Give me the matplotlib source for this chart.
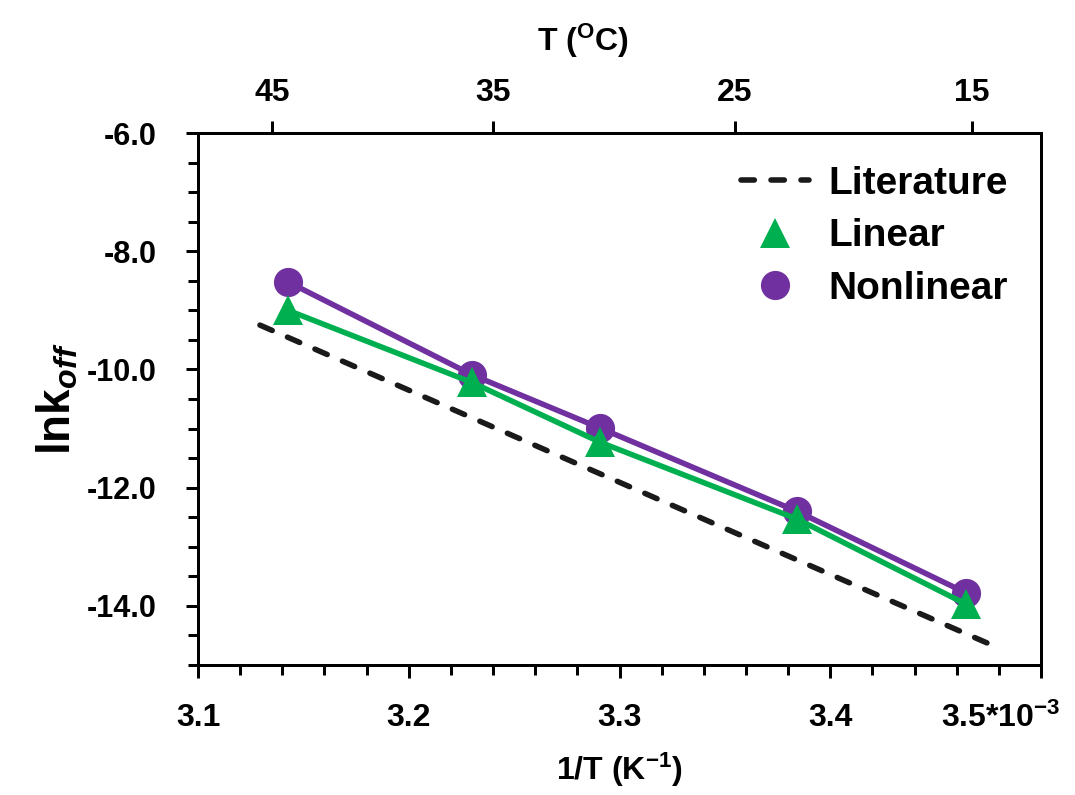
import matplotlib
matplotlib.use('Agg')
import matplotlib.pyplot as plt
from matplotlib import font_manager
from matplotlib.lines import Line2D
from matplotlib.ticker import MultipleLocator
from matplotlib.transforms import ScaledTranslation

# values (1/T in 10^-3 K^-1)
inv_t = [3.1427, 3.2300, 3.2907, 3.3842, 3.4644]
lnk_nonlinear = [-8.52, -10.09, -10.99, -12.40, -13.78]
lnk_linear = [-9.00, -10.22, -11.23, -12.53, -13.97]
lit_inv_t = [3.1294, 3.4791]
lit_lnk = [-9.25, -14.70]

x_ticks = [3.1, 3.2, 3.3, 3.4, 3.5]
x_labels = ['3.1', '3.2', '3.3', '3.4', '3.5*10$^{\\mathrm{-3}}$']
top_ticks = [3.1351, 3.2398, 3.3548, 3.4673]
top_labels = ['45', '35', '25', '15']
legend_labels = ['Literature', 'Linear', 'Nonlinear']

PURPLE = '#7030a0'
GREEN = '#00b050'
BLACK = '#1a1a1a'

names = {f.name for f in font_manager.fontManager.ttflist}
narrow = 'Liberation Sans Narrow' if 'Liberation Sans Narrow' in names else 'Liberation Sans'

plt.rcParams['font.family'] = ['Liberation Sans', 'DejaVu Sans']
plt.rcParams['font.weight'] = 'bold'
plt.rcParams['axes.labelweight'] = 'bold'
plt.rcParams['axes.unicode_minus'] = False
plt.rcParams['mathtext.fontset'] = 'custom'
plt.rcParams['mathtext.rm'] = 'Liberation Sans:bold'
plt.rcParams['mathtext.it'] = 'Liberation Sans:bold:italic'
plt.rcParams['mathtext.bf'] = 'Liberation Sans:bold'

fig = plt.figure(figsize=(10.75, 7.95), dpi=100)
ax = fig.add_axes([0.1842, 0.1635, 0.7842, 0.6692])

LW = 4.0
MS = 21
ax.plot(lit_inv_t, lit_lnk, color=BLACK, lw=LW, dashes=(2.4, 3.0),
        dash_capstyle='round', zorder=2)
ax.plot(inv_t, lnk_nonlinear, color=PURPLE, lw=LW, marker='o', ms=MS,
        mew=0, zorder=3)
ax.plot(inv_t, lnk_linear, color=GREEN, lw=LW, marker='^', ms=MS,
        mew=0, zorder=4)

ax.set_xlim(3.1, 3.5)
ax.set_ylim(-15, -6)
ax.set_xticks(x_ticks, x_labels, fontfamily=narrow, fontsize=23)
ax.xaxis.set_minor_locator(MultipleLocator(0.02))
ax.yaxis.set_major_locator(MultipleLocator(2))
ax.yaxis.set_minor_locator(MultipleLocator(0.5))
ax.yaxis.set_major_formatter('{x:.1f}')
ax.tick_params(which='both', direction='out', width=2.16, top=False, right=False)
ax.tick_params(which='major', length=9)
ax.tick_params(which='minor', length=7.5)
ax.tick_params(axis='y', labelsize=22, pad=21)
ax.tick_params(axis='x', pad=18)
for s in ax.spines.values():
    s.set_linewidth(2.16)

# the last label sits left of its tick in the reference
lab = ax.get_xticklabels()[-1]
lab.set_transform(lab.get_transform() + ScaledTranslation(-0.4, 0, fig.dpi_scale_trans))

ax.set_xlabel('1/T (K$^{\\mathrm{-1}}$)', fontfamily=narrow, fontsize=23, labelpad=12)
ax.set_ylabel('lnk$_{off}$', fontsize=33, labelpad=4)

ax2 = ax.twiny()
ax2.set_xlim(ax.get_xlim())
ax2.set_xticks(top_ticks, top_labels, fontfamily=narrow, fontsize=23)
ax2.tick_params(direction='out', length=9, width=2.16, pad=9)
for s in ax2.spines.values():
    s.set_linewidth(2.16)
ax2.set_xlabel('T ($^{\\mathrm{O}}$C)', fontfamily=narrow, fontsize=23)
ax2.xaxis.set_label_coords(0.457, 1.155)

handles = [
    Line2D([], [], color=BLACK, lw=LW, dashes=(2.4, 3.0), dash_capstyle='round'),
    Line2D([], [], color=GREEN, marker='^', ls='none', ms=MS, mew=0),
    Line2D([], [], color=PURPLE, marker='o', ls='none', ms=MS, mew=0),
]
ax2.legend(handles, legend_labels, loc='upper right', frameon=False,
           prop={'size': 28, 'weight': 'bold'}, handlelength=1.75,
           handletextpad=0.5, labelspacing=0.42, borderaxespad=0.45)

fig.savefig('out.png', dpi=100)
